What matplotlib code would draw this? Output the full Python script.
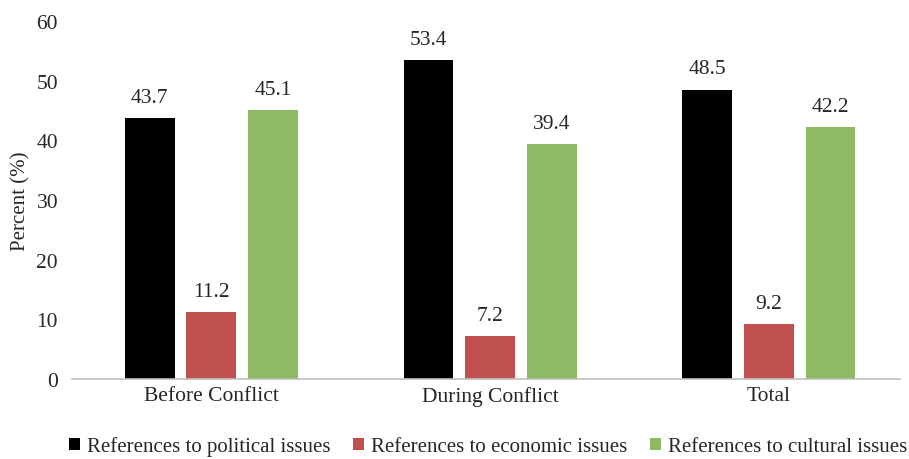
import matplotlib
matplotlib.use("Agg")
import matplotlib.pyplot as plt
import numpy as np

plt.rcParams['font.family'] = ['Liberation Serif', 'DejaVu Serif']

categories = ["Before Conflict", "During Conflict", "Total"]
series_names = ["References to political issues",
                "References to economic issues",
                "References to cultural issues"]
political = [43.7, 53.4, 48.5]
economic = [11.2, 7.2, 9.2]
cultural = [45.1, 39.4, 42.2]
colors = ["#000000", "#C0504D", "#8FBA63"]

fig = plt.figure(figsize=(9.09, 4.6), dpi=100)
ax = fig.add_axes([72 / 909, 1 - 380 / 460, 1 - 72 / 909 - 0.01, (380 - 22) / 460])

x = np.arange(len(categories))
width = 0.179
offset = 0.221
for i, (vals, name, c) in enumerate(zip([political, economic, cultural], series_names, colors)):
    pos = x + (i - 1) * offset
    bars = ax.bar(pos, vals, width, color=c, label=name, zorder=2)
    for b, v in zip(bars, vals):
        ax.text(b.get_x() + b.get_width() / 2, v + 1.9, f"{v:.1f}",
                ha='center', va='bottom', fontsize=15.5, color='#262626')

ax.set_xlim(-0.5, 2.47)
ax.set_ylim(0, 60)
ax.set_yticks(range(0, 61, 10))
ax.set_xticks(x)
ax.set_xticklabels(categories, fontsize=15.5, color='#262626')
ax.tick_params(axis='y', labelsize=15.5, colors='#262626', length=0, pad=10)
ax.tick_params(axis='x', length=0, pad=5)
for s in ['top', 'right', 'left']:
    ax.spines[s].set_visible(False)
ax.spines['bottom'].set_color('#BFBFBF')
ax.spines['bottom'].set_linewidth(1.2)
ax.set_ylabel("Percent (%)", fontsize=15, color='#262626', labelpad=4)

fig.legend(loc='lower center', bbox_to_anchor=(0.537, -0.035), ncol=3, frameon=False,
           fontsize=15, handlelength=0.5, handleheight=0.5, handletextpad=0.35,
           columnspacing=1.1, labelcolor='#262626')

fig.savefig("out.png", dpi=100)
